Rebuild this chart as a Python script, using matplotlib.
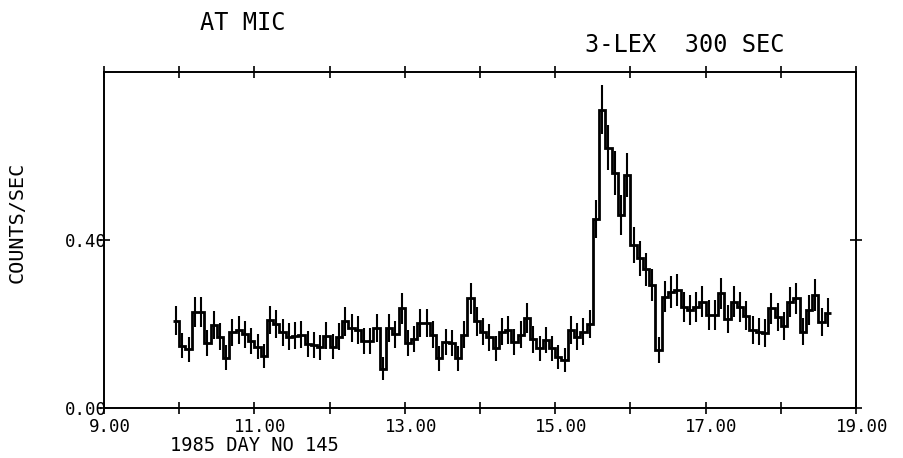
import numpy as np
import matplotlib
matplotlib.use('Agg')
import matplotlib.pyplot as plt
from matplotlib.transforms import ScaledTranslation

# 3-LEX light curve, 300 s bins, 1985 day 145 (hours UT)
t_start = 9 + 55 / 60.0     # left edge of the first bin
bin_sec = 300

rate = [
    # 9.9 - 12.0
    0.208, 0.148, 0.140, 0.228, 0.228, 0.155, 0.198, 0.170, 0.120, 0.180,
    0.186, 0.176, 0.160, 0.146, 0.124, 0.210, 0.200, 0.180, 0.170, 0.172,
    0.174, 0.152, 0.150, 0.145, 0.172,
    # 12.0 - 14.2
    0.146, 0.170, 0.206, 0.190, 0.186, 0.160, 0.160, 0.190, 0.094, 0.190,
    0.176, 0.237, 0.154, 0.164, 0.202, 0.202, 0.174, 0.118, 0.158, 0.154,
    0.118, 0.174, 0.261, 0.206, 0.182, 0.168, 0.142,
    # 14.2 - 15.5
    0.182, 0.186, 0.158, 0.174, 0.214, 0.164, 0.142, 0.162, 0.142, 0.122,
    0.114, 0.186, 0.170, 0.182, 0.200,
    # flare
    0.450, 0.710, 0.620, 0.560, 0.460, 0.555, 0.388, 0.356, 0.330, 0.293,
    0.138,
    # 16.4 - 18.7
    0.265, 0.277, 0.281, 0.241, 0.233, 0.241, 0.253, 0.221, 0.221, 0.273,
    0.212, 0.253, 0.241, 0.220, 0.186, 0.182, 0.178, 0.237, 0.217, 0.195,
    0.253, 0.261, 0.182, 0.233, 0.269, 0.205, 0.227,
]

rate_err = [
    0.034, 0.030, 0.030, 0.036, 0.036, 0.031, 0.034, 0.032, 0.029, 0.033,
    0.033, 0.032, 0.031, 0.030, 0.029, 0.034, 0.034, 0.032, 0.032, 0.032,
    0.032, 0.031, 0.030, 0.030, 0.032,
    0.030, 0.032, 0.034, 0.033, 0.033, 0.031, 0.031, 0.033, 0.028, 0.033,
    0.032, 0.036, 0.031, 0.031, 0.034, 0.034, 0.032, 0.029, 0.031, 0.031,
    0.029, 0.032, 0.037, 0.034, 0.033, 0.032, 0.030,
    0.033, 0.033, 0.031, 0.032, 0.035, 0.032, 0.030, 0.031, 0.030, 0.029,
    0.029, 0.033, 0.032, 0.033, 0.034,
    0.046, 0.058, 0.054, 0.052, 0.047, 0.052, 0.043, 0.041, 0.040, 0.038,
    0.030,
    0.037, 0.038, 0.038, 0.036, 0.035, 0.036, 0.037, 0.035, 0.035, 0.037,
    0.034, 0.037, 0.036, 0.035, 0.033, 0.033, 0.033, 0.036, 0.034, 0.033,
    0.036, 0.037, 0.033, 0.035, 0.037, 0.034, 0.035,
]

x_ticks = list(range(9, 20))
x_ticklabels = ['9.00', '', '11.00', '', '13.00', '', '15.00', '', '17.00', '', '19.00']
y_ticks = [0.0, 0.4]
y_ticklabels = ['0.00', '0.40']

mono = 'DejaVu Sans Mono'
plt.rcParams['font.family'] = [mono]

W, H = 904, 458
fig = plt.figure(figsize=(W / 100, H / 100), dpi=100)
# axes box in pixels: x 104..856, y 72..408
ax = fig.add_axes([104 / W, (H - 408) / H, 752 / W, 336 / H])

rate = np.array(rate)
rate_err = np.array(rate_err)
bw = bin_sec / 3600.0
edges = t_start + bw * np.arange(len(rate) + 1)
centers = edges[:-1] + bw / 2

ax.stairs(rate, edges, baseline=None, color='black', linewidth=2.0)
ax.errorbar(centers, rate, yerr=rate_err, fmt='none', ecolor='black',
            elinewidth=1.5, capsize=0)

ax.set_xlim(9, 19)
ax.set_ylim(0, 0.8)

ax.set_xticks(x_ticks)
ax.set_xticklabels(x_ticklabels, fontsize=12.5, family=mono)
ax.set_yticks(y_ticks)
ax.set_yticklabels(y_ticklabels, fontsize=12.5, family=mono)

ax.tick_params(axis='x', direction='inout', length=8, width=1.2,
               top=True, pad=3)
ax.tick_params(axis='y', direction='inout', length=8, width=1.2,
               right=True, pad=-6)

# plotter labels sit a little right of their ticks
shift = ScaledTranslation(6 / 100, 0, fig.dpi_scale_trans)
for lab in ax.get_xticklabels():
    lab.set_transform(lab.get_transform() + shift)

for sp in ax.spines.values():
    sp.set_linewidth(1.4)

fig.text(243 / W, 1 - 30 / H, 'AT MIC', fontsize=17, ha='center', va='baseline')
fig.text(685 / W, 1 - 52 / H, '3-LEX  300 SEC', fontsize=17, ha='center', va='baseline')
fig.text(254 / W, 1 - 451 / H, '1985 DAY NO 145', fontsize=13.5, ha='center', va='baseline')
fig.text(17 / W, 1 - 222 / H, 'COUNTS/SEC', fontsize=14.5, rotation=90,
         ha='center', va='center')

fig.savefig('out.png', dpi=100, facecolor='white')
